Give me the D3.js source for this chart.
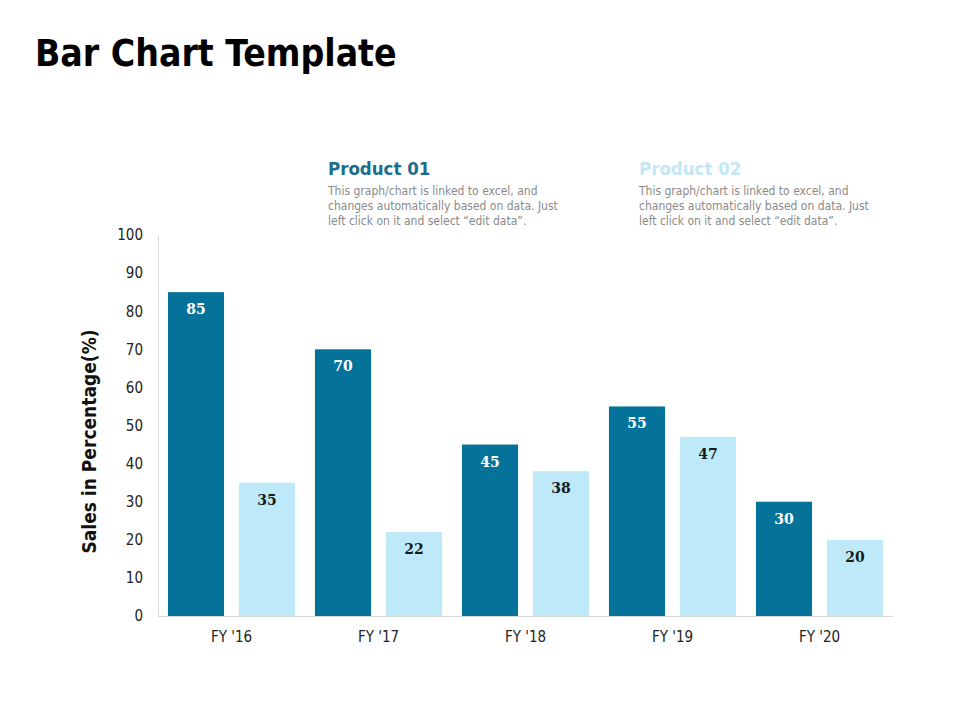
<!DOCTYPE html>
<html>
<head>
<meta charset="utf-8">
<script src="https://cdn.jsdelivr.net/npm/d3@7"></script>
<style>
  body { margin: 0; background: #fff; }
  svg { display: block; font-family: "DejaVu Sans Condensed", "DejaVu Sans", sans-serif; }
</style>
</head>
<body>
<div class="chart"></div>
<script>
const categories = ["FY '16", "FY '17", "FY '18", "FY '19", "FY '20"];
const seriesNames = ['Product 01', 'Product 02'];
const product01 = [85, 70, 45, 55, 30];
const product02 = [35, 22, 38, 47, 20];
const yTicks = [0, 10, 20, 30, 40, 50, 60, 70, 80, 90, 100];
const legendNote = [
  'This graph/chart is linked to excel, and',
  'changes automatically based on data. Just',
  'left click on it and select \u201cedit data\u201d.',
];

const colors = { 'Product 01': '#05729a', 'Product 02': '#bde9f9' };
const legendColors = { 'Product 01': '#1b6e8c', 'Product 02': '#c2e8f6' };

const width = 960;
const height = 720;
const plot = { left: 158, right: 893, top: 235, bottom: 616 };
const baseFont = '"DejaVu Sans Condensed", "DejaVu Sans", sans-serif';

const data = categories.map((c, i) => ({
  category: c,
  values: [
    { series: seriesNames[0], value: product01[i] },
    { series: seriesNames[1], value: product02[i] },
  ],
}));

const svg = d3.select('.chart')
  .append('svg')
  .attr('width', width)
  .attr('height', height);

svg.append('text')
  .attr('x', 35)
  .attr('y', 66)
  .attr('font-size', 37)
  .attr('font-weight', 'bold')
  .attr('fill', '#000')
  .text('Bar Chart Template');

/* scales */

const x0 = d3.scaleBand()
  .domain(categories)
  .range([plot.left, plot.right]);

const x1 = d3.scaleBand()
  .domain(seriesNames)
  .range([0, x0.bandwidth()])
  .paddingInner(0.21)
  .paddingOuter(0.14);

const y = d3.scaleLinear()
  .domain([0, 100])
  .range([plot.bottom, plot.top]);

/* bars */

const groups = svg.selectAll('.group')
  .data(data)
  .enter().append('g')
  .attr('class', 'group')
  .attr('transform', d => `translate(${x0(d.category)},0)`);

groups.selectAll('rect')
  .data(d => d.values)
  .enter().append('rect')
  .attr('x', d => x1(d.series))
  .attr('y', d => y(d.value))
  .attr('width', x1.bandwidth())
  .attr('height', d => y(0) - y(d.value))
  .attr('fill', d => colors[d.series]);

groups.selectAll('.val')
  .data(d => d.values)
  .enter().append('text')
  .attr('class', 'val')
  .attr('x', d => x1(d.series) + x1.bandwidth() / 2)
  .attr('y', d => y(d.value) + 22)
  .attr('text-anchor', 'middle')
  .attr('font-family', '"DejaVu Serif", serif')
  .attr('font-size', 14)
  .attr('font-weight', 'bold')
  .attr('fill', d => (d.series === seriesNames[0] ? '#fff' : '#1a1a1a'))
  .text(d => d.value);

/* axes */

const yAxis = d3.axisLeft(y)
  .tickValues(yTicks)
  .tickSize(0)
  .tickPadding(15);

const yAxisGroup = svg.append('g')
  .attr('transform', `translate(${plot.left},0)`)
  .call(yAxis)
  .attr('font-family', baseFont)
  .attr('font-size', 15);
yAxisGroup.select('.domain').attr('stroke', '#d9d9d9');
yAxisGroup.selectAll('text').attr('fill', '#222');

const xAxis = d3.axisBottom(x0)
  .tickSize(0)
  .tickPadding(15);

const xAxisGroup = svg.append('g')
  .attr('transform', `translate(0,${plot.bottom})`)
  .call(xAxis)
  .attr('font-family', baseFont)
  .attr('font-size', 15);
xAxisGroup.select('.domain').attr('stroke', '#d9d9d9');
xAxisGroup.selectAll('text').attr('fill', '#222');

svg.append('text')
  .attr('transform', `translate(96,${(plot.top + plot.bottom) / 2 + 16}) rotate(-90)`)
  .attr('text-anchor', 'middle')
  .attr('font-size', 19)
  .attr('font-weight', 'bold')
  .attr('fill', '#111')
  .text('Sales in Percentage(%)');

/* legend */

const legendX = [328, 639];
const legend = svg.selectAll('.legend')
  .data(seriesNames)
  .enter().append('g')
  .attr('class', 'legend')
  .attr('transform', (d, i) => `translate(${legendX[i]},0)`);

legend.append('text')
  .attr('y', 175)
  .attr('font-size', 18.5)
  .attr('font-weight', 'bold')
  .attr('fill', d => legendColors[d])
  .text(d => d);

legend.selectAll('.note')
  .data(legendNote)
  .enter().append('text')
  .attr('class', 'note')
  .attr('y', (d, i) => 195 + i * 15)
  .attr('font-size', 12)
  .attr('fill', '#8a8a8a')
  .text(d => d);
</script>
</body>
</html>
